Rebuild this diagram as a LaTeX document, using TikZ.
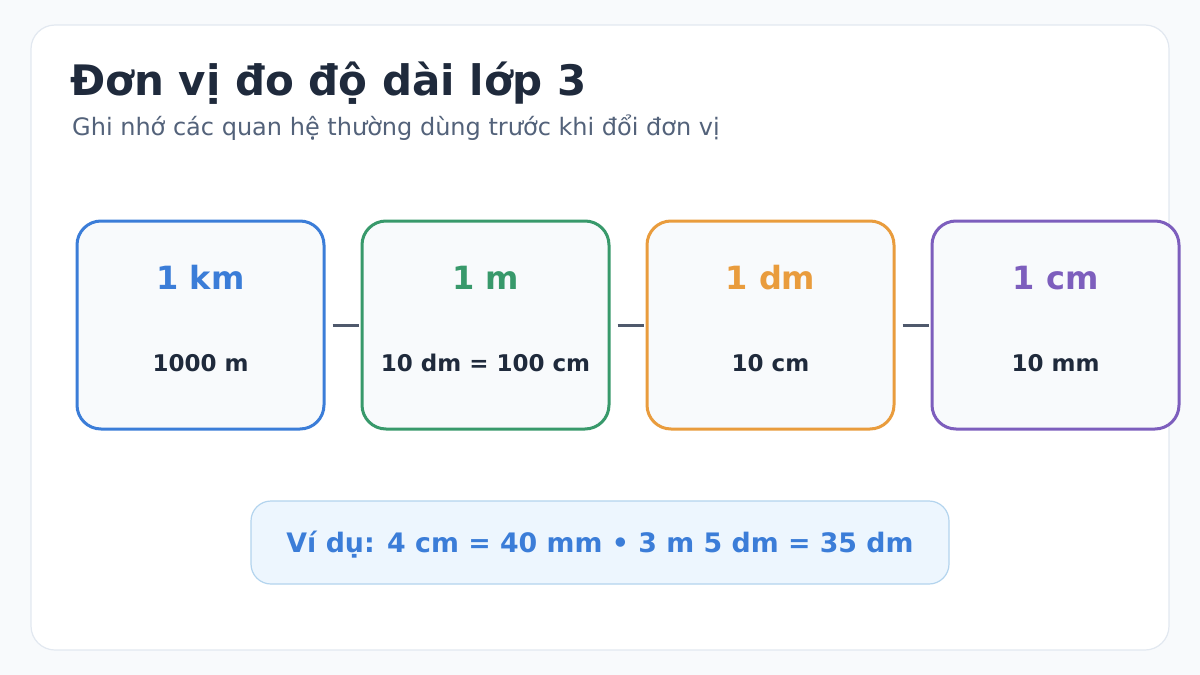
\documentclass[tikz,border=0pt]{standalone}
\usepackage{fontspec}
\setmainfont{DejaVu Sans}
\definecolor{pagebg}{HTML}{F8FAFC}
\definecolor{cardline}{HTML}{E2E8F0}
\definecolor{darktxt}{HTML}{1F2A3C}
\definecolor{subtxt}{HTML}{53627A}
\definecolor{cblue}{HTML}{3B7DD8}
\definecolor{cgreen}{HTML}{38996B}
\definecolor{corange}{HTML}{E99C3D}
\definecolor{cpurple}{HTML}{7D5EBD}
\definecolor{linkc}{HTML}{4F596C}
\definecolor{exfill}{HTML}{EDF6FE}
\definecolor{exline}{HTML}{B3D4EE}
\begin{document}
\begin{tikzpicture}[x=1pt,y=-1pt,
  unitbox/.style={draw, line width=3pt, fill=pagebg, rounded corners=24pt, minimum width=247pt, minimum height=208pt, inner sep=0pt},
  unittitle/.style={font=\bfseries\fontsize{32}{38}\selectfont, anchor=base},
  unitval/.style={font=\bfseries\fontsize{23}{27}\selectfont, text=darktxt, anchor=base},
  link/.style={draw=linkc, line width=3pt}]
\useasboundingbox (0,0) rectangle (1200,675);
\fill[pagebg] (0,0) rectangle (1200,675);
\draw[cardline, line width=1.2pt, fill=white, rounded corners=24pt] (31,25) rectangle (1169,650);
\node[anchor=base west, inner sep=0pt, text=darktxt, font=\bfseries\fontsize{42}{50}\selectfont] (title) at (70,95) {Đơn vị đo độ dài lớp 3};
\node[anchor=base west, inner sep=0pt, text=subtxt, font=\fontsize{24}{28}\selectfont] (sub) at (72,135) {Ghi nhớ các quan hệ thường dùng trước khi đổi đơn vị};
\node[unitbox, draw=cblue] (b1) at (200.5,325) {};
\node[unitbox, draw=cgreen] (b2) at (485.5,325) {};
\node[unitbox, draw=corange] (b3) at (770.5,325) {};
\node[unitbox, draw=cpurple] (b4) at (1055.5,325) {};
\node[unittitle, text=cblue] (t1) at (200.5,289) {1 km};
\node[unittitle, text=cgreen] (t2) at (485.5,289) {1 m};
\node[unittitle, text=corange] (t3) at (770.5,289) {1 dm};
\node[unittitle, text=cpurple] (t4) at (1055.5,289) {1 cm};
\node[unitval] (v1) at (200.5,371) {1000 m};
\node[unitval] (v2) at (485.5,371) {10 dm = 100 cm};
\node[unitval] (v3) at (770.5,371) {10 cm};
\node[unitval] (v4) at (1055.5,371) {10 mm};
\draw[link] ([xshift=-28pt]b2.west) -- ([xshift=-1.5pt]b2.west);
\draw[link] ([xshift=-28pt]b3.west) -- ([xshift=-1.5pt]b3.west);
\draw[link] ([xshift=-28pt]b4.west) -- ([xshift=-1.5pt]b4.west);
\node[draw=exline, line width=1.2pt, fill=exfill, rounded corners=20pt, minimum width=698pt, minimum height=83pt] (ex) at (600,542.5) {};
\node[anchor=base, text=cblue, font=\bfseries\fontsize{26.8}{31}\selectfont] (ext) at (600,552) {Ví dụ: 4 cm = 40 mm • 3 m 5 dm = 35 dm};
\end{tikzpicture}
\end{document}
